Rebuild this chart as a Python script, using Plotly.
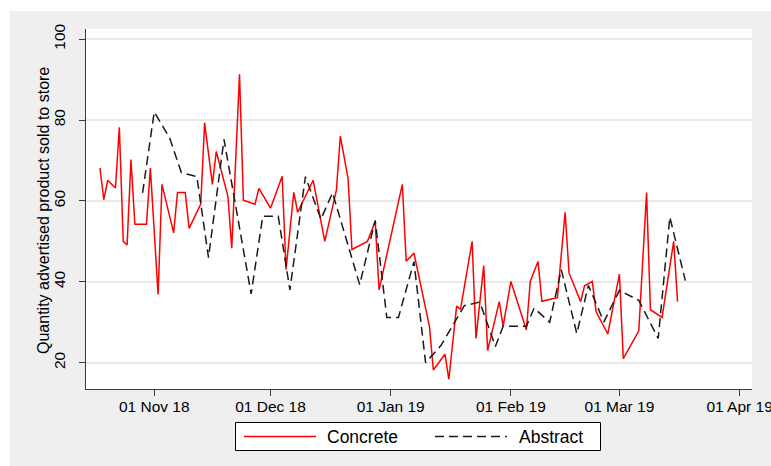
import plotly.graph_objects as go

# ---- data ----
concrete_dates = [
    "2018-10-18", "2018-10-19", "2018-10-20", "2018-10-22", "2018-10-23", "2018-10-24",
    "2018-10-25", "2018-10-26", "2018-10-27", "2018-10-30", "2018-10-31", "2018-11-02",
    "2018-11-03", "2018-11-06", "2018-11-07", "2018-11-09", "2018-11-10", "2018-11-13",
    "2018-11-14", "2018-11-16", "2018-11-17", "2018-11-20", "2018-11-21", "2018-11-23",
    "2018-11-24", "2018-11-27", "2018-11-28", "2018-12-01", "2018-12-04", "2018-12-05",
    "2018-12-07", "2018-12-08", "2018-12-12", "2018-12-15", "2018-12-18", "2018-12-19",
    "2018-12-21", "2018-12-22", "2018-12-26", "2018-12-28", "2018-12-29", "2019-01-04",
    "2019-01-05", "2019-01-07", "2019-01-11", "2019-01-12", "2019-01-15", "2019-01-16",
    "2019-01-18", "2019-01-19", "2019-01-22", "2019-01-23", "2019-01-25", "2019-01-26",
    "2019-01-29", "2019-01-30", "2019-02-01", "2019-02-05", "2019-02-06", "2019-02-08",
    "2019-02-09", "2019-02-13", "2019-02-15", "2019-02-16", "2019-02-19", "2019-02-20",
    "2019-02-22", "2019-02-23", "2019-02-26", "2019-03-01", "2019-03-02", "2019-03-06",
    "2019-03-08", "2019-03-09", "2019-03-12", "2019-03-15", "2019-03-16",
]
concrete_values = [
    68.1, 60.3, 65.1, 63.2, 78.2, 50.0,
    49.1, 70.2, 54.2, 54.2, 68.1, 36.9,
    64.1, 52.1, 62.1, 62.1, 53.2, 59.2,
    79.3, 64.1, 72.2, 61.2, 48.3, 91.3,
    60.2, 59.2, 63.1, 58.2, 66.1, 43.0,
    62.1, 57.2, 65.1, 50.0, 62.7, 76.0,
    65.6, 48.0, 50.0, 54.9, 38.0, 64.1,
    45.1, 47.1, 28.9, 18.2, 22.1, 15.9,
    34.0, 33.2, 50.0, 26.0, 44.0, 23.0,
    35.1, 29.0, 40.1, 28.1, 40.1, 45.0,
    35.2, 36.1, 57.2, 42.2, 35.1, 39.0,
    40.1, 32.6, 27.1, 41.9, 21.0, 27.9,
    62.1, 33.1, 31.2, 50.0, 35.1,
]

abstract_dates = [
    "2018-10-29", "2018-11-01", "2018-11-05", "2018-11-08", "2018-11-12", "2018-11-15",
    "2018-11-19", "2018-11-26", "2018-11-29", "2018-12-03", "2018-12-06", "2018-12-10",
    "2018-12-14", "2018-12-17", "2018-12-24", "2018-12-28", "2018-12-31", "2019-01-03",
    "2019-01-07", "2019-01-10", "2019-01-14", "2019-01-18", "2019-01-20", "2019-01-24",
    "2019-01-28", "2019-01-30", "2019-02-05", "2019-02-07", "2019-02-11", "2019-02-14",
    "2019-02-18", "2019-02-21", "2019-02-25", "2019-03-01", "2019-03-06", "2019-03-11",
    "2019-03-14", "2019-03-18",
]
abstract_values = [
    62.0, 82.0, 75.5, 67.0, 66.0, 46.0,
    75.2, 37.0, 56.2, 56.2, 38.0, 66.0,
    55.5, 62.0, 39.3, 55.2, 31.2, 31.2,
    45.0, 20.0, 24.3, 31.0, 34.1, 35.0,
    24.0, 29.0, 29.0, 33.5, 30.0, 43.0,
    27.2, 39.1, 30.1, 37.9, 35.4, 26.0,
    56.0, 40.3,
]

x_tick_values = ["2018-11-01", "2018-12-01", "2019-01-01", "2019-02-01", "2019-03-01", "2019-04-01"]
x_tick_labels = ["01 Nov 18", "01 Dec 18", "01 Jan 19", "01 Feb 19", "01 Mar 19", "01 Apr 19"]
y_tick_values = [20, 40, 60, 80, 100]
y_title = "Quantity advertised product sold to store"
series_names = ["Concrete", "Abstract"]

FONT = "Liberation Sans, Arial, sans-serif"
AXIS_COL = "#3a3a3a"
RED = "#ff0000"
BLACK = "#1a1a1a"
DASH = "9px,5px"

fig = go.Figure()
fig.add_trace(go.Scatter(
    x=concrete_dates, y=concrete_values, mode="lines", name=series_names[0],
    line=dict(color=RED, width=1.5), showlegend=False,
))
fig.add_trace(go.Scatter(
    x=abstract_dates, y=abstract_values, mode="lines", name=series_names[1],
    line=dict(color=BLACK, width=1.5, dash=DASH), showlegend=False,
))

W, H = 771, 466
L, R, T, B = 86, 19, 29, 77
pw, ph = W - L - R, H - T - B

def px_x(p):
    return (p - L) / pw

def px_y(p):
    return (H - B - p) / ph

# legend drawn as a boxed key below the plot
leg_y = px_y(436.5)
shapes = [
    # white margin strips at the top and left of the picture
    dict(type="rect", xref="paper", yref="paper",
         x0=px_x(0), x1=px_x(W), y0=px_y(11), y1=px_y(-2),
         fillcolor="#ffffff", line=dict(width=0), layer="below"),
    dict(type="rect", xref="paper", yref="paper",
         x0=px_x(-2), x1=px_x(10), y0=px_y(H + 2), y1=px_y(-2),
         fillcolor="#ffffff", line=dict(width=0), layer="below"),
    # legend box
    dict(type="rect", xref="paper", yref="paper",
         x0=px_x(235.5), x1=px_x(600.5), y0=px_y(450.5), y1=px_y(422.5),
         fillcolor="#ffffff", line=dict(color="#000000", width=1)),
    dict(type="line", xref="paper", yref="paper",
         x0=px_x(244), x1=px_x(316), y0=leg_y, y1=leg_y,
         line=dict(color=RED, width=1.5)),
    dict(type="line", xref="paper", yref="paper",
         x0=px_x(435), x1=px_x(507), y0=leg_y, y1=leg_y,
         line=dict(color=BLACK, width=1.5, dash=DASH)),
]

annotations = [
    dict(text=y_title, textangle=-90, xref="paper", yref="paper",
         x=px_x(43), y=px_y(211), xanchor="center", yanchor="middle",
         showarrow=False, font=dict(size=16, family=FONT, color="#000000")),
    dict(text=series_names[0], xref="paper", yref="paper",
         x=px_x(325), y=leg_y, xanchor="left", yanchor="middle",
         showarrow=False, font=dict(size=17.5, family=FONT, color="#000000")),
    dict(text=series_names[1], xref="paper", yref="paper",
         x=px_x(517), y=leg_y, xanchor="left", yanchor="middle",
         showarrow=False, font=dict(size=17.5, family=FONT, color="#000000")),
]

fig.update_layout(
    width=W, height=H,
    margin=dict(l=L, r=R, t=T, b=B, pad=0, autoexpand=False),
    paper_bgcolor="#efefef",
    plot_bgcolor="#ffffff",
    font=dict(family=FONT, size=15, color="#000000"),
    showlegend=False,
    xaxis=dict(
        type="date", automargin=False,
        range=["2018-10-14 09:36", "2019-04-04 04:48"],
        tickvals=x_tick_values, ticktext=x_tick_labels,
        ticklabeloverflow="allow", ticklabelstandoff=-3,
        showgrid=False, zeroline=False,
        showline=True, linecolor=AXIS_COL, linewidth=1.3,
        ticks="outside", ticklen=6, tickcolor=AXIS_COL, tickwidth=1.3,
        tickfont=dict(size=15.5, family=FONT),
    ),
    yaxis=dict(
        automargin=False,
        range=[13.5, 102.5],
        tickvals=y_tick_values, tickangle=-90,
        ticklabelstandoff=8,
        showgrid=True, gridcolor="#e9e9e9", gridwidth=1.5,
        zeroline=False,
        showline=True, linecolor=AXIS_COL, linewidth=1.3,
        ticks="outside", ticklen=6, tickcolor=AXIS_COL, tickwidth=1.3,
        tickfont=dict(size=15.5, family=FONT),
    ),
    annotations=annotations,
    shapes=shapes,
)

fig.write_html(
    "out.html",
    config={"displayModeBar": False},
    post_script="document.body.style.margin='0';document.body.style.overflow='hidden';",
)
